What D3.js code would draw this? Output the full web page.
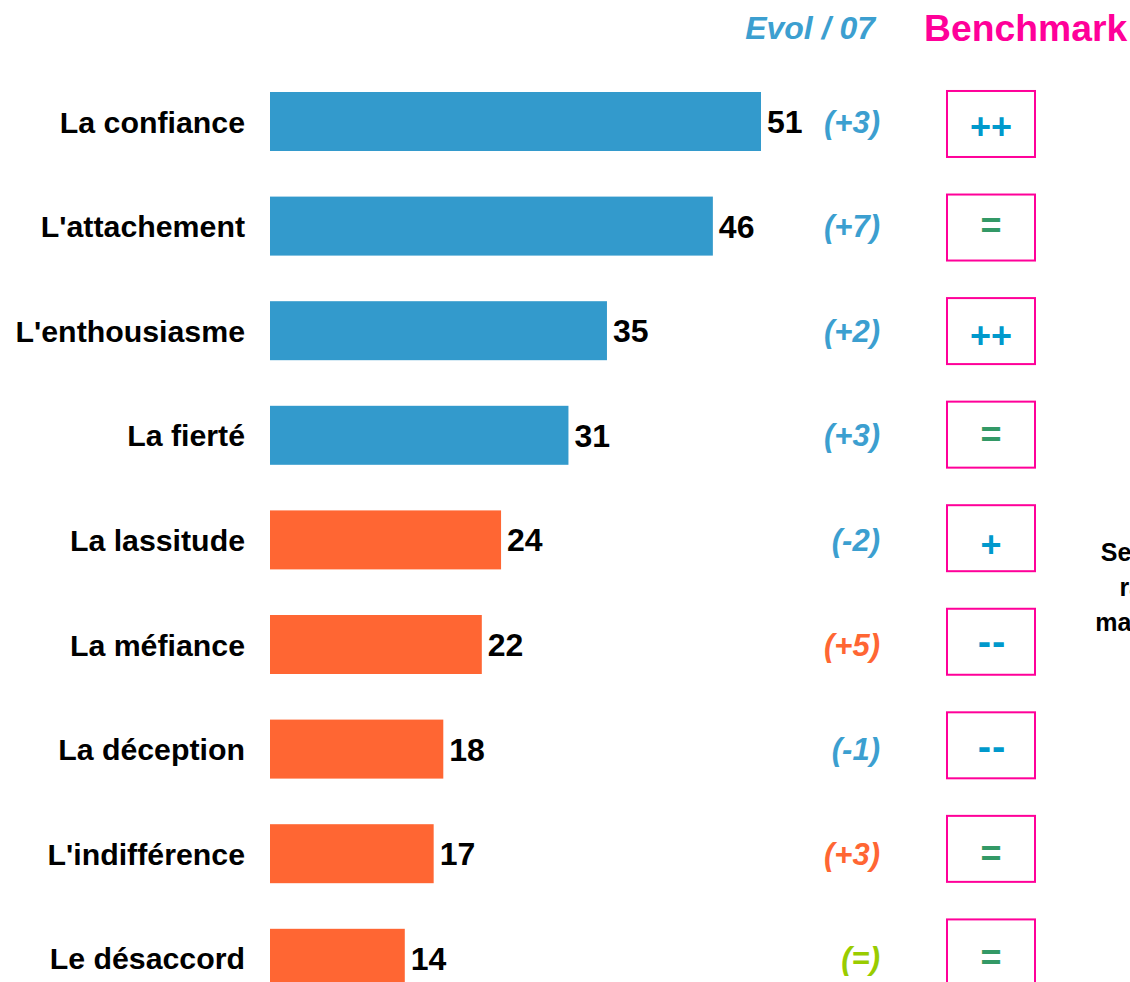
<!DOCTYPE html>
<html>
<head>
<meta charset="utf-8">
<script src="https://cdn.jsdelivr.net/npm/d3@7"></script>
<style>
  html, body { margin: 0; padding: 0; background: #fff; overflow: hidden; }
  svg { display: block; }
  text { font-family: "Liberation Sans", Arial, sans-serif; font-weight: bold; }
</style>
</head>
<body>
<script>
const categories = ["La confiance", "L'attachement", "L'enthousiasme", "La fierté", "La lassitude", "La méfiance", "La déception", "L'indifférence", "Le désaccord"];
const values = [51, 46, 35, 31, 24, 22, 18, 17, 14];
const sentiment = ["pos", "pos", "pos", "pos", "neg", "neg", "neg", "neg", "neg"];
const evolValues = [3, 7, 2, 3, -2, 5, -1, 3, 0];
const benchmark = ["++", "=", "++", "=", "+", "--", "--", "=", "="];
const headerEvol = "Evol / 07";
const headerBench = "Benchmark";
const sideNote = ["Secteur", "rang", "marchés"];

const W = 1130, H = 982;
const colors = {
  pos: "#339acc", neg: "#ff6633",
  evolGood: "#3c9fd0", evolBad: "#ff6633", evolEq: "#99cc00",
  benchBlue: "#0099cc", benchGreen: "#339966", magenta: "#ff0099"
};

const svg = d3.select("body").append("svg").attr("width", W).attr("height", H);

const x = d3.scaleLinear().domain([0, 51]).range([270, 761]);
const y = d3.scaleBand().domain(categories).range([69.2, 1010.6]).paddingInner(0.436).paddingOuter(0.218);
// benchmark column boxes use a slightly tighter pitch
const yb = d3.scaleBand().domain(categories).range([72.2, 1004.2]).paddingInner(0.36).paddingOuter(0.18);

const rows = categories.map((c, i) => ({
  cat: c, v: values[i], s: sentiment[i], ev: evolValues[i], b: benchmark[i]
}));
const cy = d => y(d.cat) + y.bandwidth() / 2;
const cyb = d => yb(d.cat) + yb.bandwidth() / 2;

// headers
svg.append("text").attr("x", 875).attr("y", 39).attr("text-anchor", "end")
  .attr("font-size", 32).attr("font-style", "italic").attr("fill", colors.evolGood).text(headerEvol);
svg.append("text").attr("x", 924).attr("y", 41).attr("text-anchor", "start")
  .attr("font-size", 37.3).attr("fill", colors.magenta).text(headerBench);

// bars
svg.selectAll("rect.bar").data(rows).join("rect").attr("class", "bar")
  .attr("x", x(0)).attr("y", d => y(d.cat))
  .attr("width", d => x(d.v) - x(0)).attr("height", y.bandwidth())
  .attr("fill", d => colors[d.s]);

// category labels
svg.selectAll("text.cat").data(rows).join("text").attr("class", "cat")
  .attr("x", 245).attr("y", d => cy(d) + 11).attr("text-anchor", "end")
  .attr("font-size", 30.3).attr("fill", "#000").text(d => d.cat);

// value labels
svg.selectAll("text.val").data(rows).join("text").attr("class", "val")
  .attr("x", d => x(d.v) + 6).attr("y", d => cy(d) + 11.5)
  .attr("font-size", 32).attr("fill", "#000").text(d => d.v);

// evolution
const evolText = v => v === 0 ? "(=)" : (v > 0 ? "(+" + v + ")" : "(" + v + ")");
const evolColor = d => {
  if (d.ev === 0) return colors.evolEq;
  const good = (d.s === "pos" ? 1 : -1) * Math.sign(d.ev) > 0;
  return good ? colors.evolGood : colors.evolBad;
};
svg.selectAll("text.evol").data(rows).join("text").attr("class", "evol")
  .attr("x", 880).attr("y", d => cy(d) + 11)
  .attr("text-anchor", "end").attr("font-style", "italic")
  .attr("font-size", 31).attr("fill", evolColor).text(d => evolText(d.ev));

// benchmark boxes
svg.selectAll("rect.bench").data(rows).join("rect").attr("class", "bench")
  .attr("x", 947).attr("y", d => cyb(d) - 33).attr("width", 88).attr("height", 66)
  .attr("fill", "none").attr("stroke", colors.magenta).attr("stroke-width", 2);

const symBaseline = d => d.b === "--" ? cy(d) + 10.5 : (d.b === "=" ? cy(d) + 12 : cy(d) + 17);
svg.selectAll("text.benchSym").data(rows).join("text").attr("class", "benchSym")
  .attr("x", d => d.b === "--" ? 992 : 991)
  .attr("y", symBaseline)
  .attr("text-anchor", "middle")
  .attr("font-size", d => d.b === "--" ? 40 : 36)
  .attr("fill", d => d.b === "=" ? colors.benchGreen : colors.benchBlue)
  .attr("letter-spacing", d => d.b === "--" ? 1 : 0)
  .text(d => d.b);

// side note (partially outside the view, as in the reference)
svg.selectAll("text.note").data(sideNote).join("text").attr("class", "note")
  .attr("x", 1146.6).attr("y", (d, i) => 561 + i * 35).attr("text-anchor", "middle")
  .attr("font-size", 25).attr("fill", "#000").text(d => d);
</script>
</body>
</html>
